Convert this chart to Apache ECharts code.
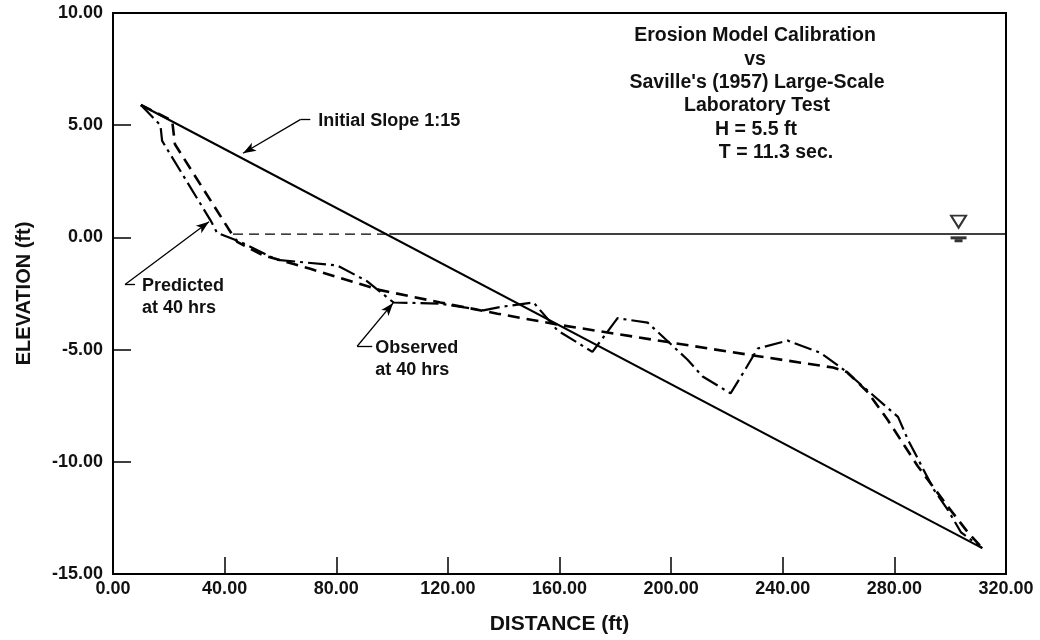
<!DOCTYPE html>
<html>
<head>
<meta charset="utf-8">
<script src="https://cdn.jsdelivr.net/npm/echarts@6/dist/echarts.min.js"></script>
<style>html,body{margin:0;padding:0;background:#fff}#c{width:1040px;height:640px}</style>
</head>
<body>
<div id="c"></div>
<script>
// ---- data ----
const xTicks = [0, 40, 80, 120, 160, 200, 240, 280, 320];
const yTicks = [-15, -10, -5, 0, 5, 10];

const slopeX = [10, 311.5];
const slopeY = [5.9, -13.85];

const observedX = [10, 17, 17.6, 35, 37.3, 45.6, 58.8, 80.4, 91, 100.5, 117.3, 132.7, 138.8, 150.7, 159.3, 171.8, 180.8, 191.6, 205.9, 211.3, 221.3, 226, 231, 241.8, 253.6, 261.9, 271.6, 281.3, 284.8, 294.2, 299.2, 303.9, 311.5];
const observedY = [5.9, 5.0, 4.3, 0.75, 0.2, -0.2, -1.0, -1.25, -1.95, -2.9, -2.95, -3.25, -3.1, -2.9, -4.15, -5.1, -3.6, -3.8, -5.45, -6.2, -6.95, -6.0, -4.95, -4.6, -5.15, -5.9, -6.95, -8.0, -9.0, -11.25, -12.15, -13.15, -13.85];

const predictedX = [10, 21.2, 22.2, 41.3, 44.5, 53.8, 70.7, 95.8, 117.3, 137.8, 160, 221, 258, 263, 270.5, 277.7, 288.4, 299.2, 306.4, 311.5];
const predictedY = [5.9, 5.2, 4.15, 0.4, -0.2, -0.8, -1.4, -2.35, -2.9, -3.4, -3.9, -5.1, -5.8, -6.0, -6.9, -8.15, -10.2, -12.0, -13.15, -13.85];

const swlLevel = 0.15;
const swlDashedX = [43, 99];
const swlSolidX = [99, 320];
const swlSymbolX = 303;

// annotation leaders: [textEnd, corner, tip] in data units
const slopeLeader = [[70.7, 5.25], [67.1, 5.25], [46.6, 3.75]];
const predictedLeader = [[7.9, -2.1], [4.3, -2.1], [34.4, 0.7]];
const observedLeader = [[92.9, -4.85], [87.5, -4.85], [100.4, -2.92]];

const titleLines = ["Erosion Model Calibration", "vs", "Saville's (1957) Large-Scale", "Laboratory Test", "H = 5.5 ft", "T = 11.3 sec."];

// ---- layout (pixels) ----
const titleCenters = [755, 755, 757, 757, 756, 776];
const titleTop = 36, titleStep = 23.3;

// ---- build ----
const zip = (xs, ys) => xs.map((x, i) => [x, ys[i]]);
const FONT = '"Liberation Sans", Arial, sans-serif';

function leaderMarkLine(pts) {
  return [
    [{ coord: pts[0], symbol: 'none' }, { coord: pts[1], symbol: 'none' }],
    [{ coord: pts[1], symbol: 'none' }, { coord: pts[2], symbol: 'arrow', symbolSize: [7, 13] }]
  ];
}

const chart = echarts.init(document.getElementById('c'), null, { renderer: 'canvas' });
const option = {
  animation: false,
  backgroundColor: '#fff',
  grid: { left: 113, right: 34, top: 13, bottom: 66, show: true, borderColor: '#000', borderWidth: 2, backgroundColor: 'transparent' },
  xAxis: {
    type: 'value', min: 0, max: 320, interval: 40,
    name: 'DISTANCE (ft)', nameLocation: 'middle', nameGap: 40,
    nameTextStyle: { fontFamily: FONT, fontWeight: 'bold', fontSize: 21, color: '#111' },
    axisLine: { show: false, onZero: false },
    axisTick: { show: true, inside: true, length: 17, lineStyle: { color: '#000', width: 1.5 } },
    axisLabel: { margin: 6, fontFamily: FONT, fontWeight: 'bold', fontSize: 18, color: '#111', formatter: v => v.toFixed(2) },
    splitLine: { show: false }
  },
  yAxis: {
    type: 'value', min: -15, max: 10, interval: 5,
    name: 'ELEVATION (ft)', nameLocation: 'middle', nameGap: 79, nameRotate: 90,
    nameTextStyle: { fontFamily: FONT, fontWeight: 'bold', fontSize: 20, color: '#111' },
    axisLine: { show: false, onZero: false },
    axisTick: { show: true, inside: true, length: 18, lineStyle: { color: '#000', width: 1.5 } },
    axisLabel: { margin: 10, fontFamily: FONT, fontWeight: 'bold', fontSize: 18, color: '#111', formatter: v => v.toFixed(2) },
    splitLine: { show: false }
  },
  series: [
    {
      name: 'Initial Slope', type: 'line', data: zip(slopeX, slopeY), symbol: 'none',
      lineStyle: { color: '#000', width: 2 },
      markLine: { silent: true, animation: false, label: { show: false }, lineStyle: { color: '#000', width: 1.3, type: 'solid' }, data: leaderMarkLine(slopeLeader) }
    },
    {
      name: 'SWL dashed', type: 'line', data: swlDashedX.map(x => [x, swlLevel]), symbol: 'none',
      lineStyle: { color: '#000', width: 1.3, type: [10, 6] }
    },
    {
      name: 'SWL', type: 'line', data: swlSolidX.map(x => [x, swlLevel]), symbol: 'none',
      lineStyle: { color: '#000', width: 1.6 }
    },
    {
      name: 'Observed', type: 'line', data: zip(observedX, observedY), symbol: 'none',
      lineStyle: { color: '#000', width: 2.2, type: [18, 5, 3, 5] },
      markLine: { silent: true, animation: false, label: { show: false }, lineStyle: { color: '#000', width: 1.3, type: 'solid' }, data: leaderMarkLine(observedLeader) }
    },
    {
      name: 'Predicted', type: 'line', data: zip(predictedX, predictedY), symbol: 'none',
      lineStyle: { color: '#000', width: 2.6, type: [12, 7] },
      markLine: { silent: true, animation: false, label: { show: false }, lineStyle: { color: '#000', width: 1.3, type: 'solid' }, data: leaderMarkLine(predictedLeader) }
    },
    {
      name: 'SWL symbol', type: 'scatter', silent: true,
      data: [
        { value: [swlSymbolX, swlLevel + 0.55], symbol: 'triangle', symbolRotate: 180, symbolSize: [15, 12], itemStyle: { color: '#fff', borderColor: '#000', borderWidth: 2 } },
        { value: [swlSymbolX, swlLevel - 0.17], symbol: 'rect', symbolSize: [16, 3], itemStyle: { color: '#000' } },
        { value: [swlSymbolX, swlLevel - 0.3], symbol: 'rect', symbolSize: [8, 3], itemStyle: { color: '#000' } }
      ]
    }
  ]
};
chart.setOption(option);

// text annotations anchored to data coordinates
const txt = (x, y, s, align, size) => ({
  type: 'text', x, y, silent: true,
  style: { text: s, fill: '#111', font: 'bold ' + (size || 18) + 'px ' + FONT, textAlign: align || 'left', textVerticalAlign: 'middle' }
});
const p1 = chart.convertToPixel({ gridIndex: 0 }, slopeLeader[0]);
const p2 = chart.convertToPixel({ gridIndex: 0 }, predictedLeader[0]);
const p3 = chart.convertToPixel({ gridIndex: 0 }, observedLeader[0]);
const graphics = [
  txt(p1[0] + 8, p1[1] + 1, 'Initial Slope 1:15'),
  txt(p2[0] + 7, p2[1] + 2, 'Predicted'),
  txt(p2[0] + 7, p2[1] + 24, 'at 40 hrs'),
  txt(p3[0] + 3, p3[1] + 2, 'Observed'),
  txt(p3[0] + 3, p3[1] + 24, 'at 40 hrs')
];
titleLines.forEach((s, i) => graphics.push(txt(titleCenters[i], titleTop + i * titleStep, s, 'center', 19.5)));
chart.setOption({ graphic: graphics });
</script>
</body>
</html>
